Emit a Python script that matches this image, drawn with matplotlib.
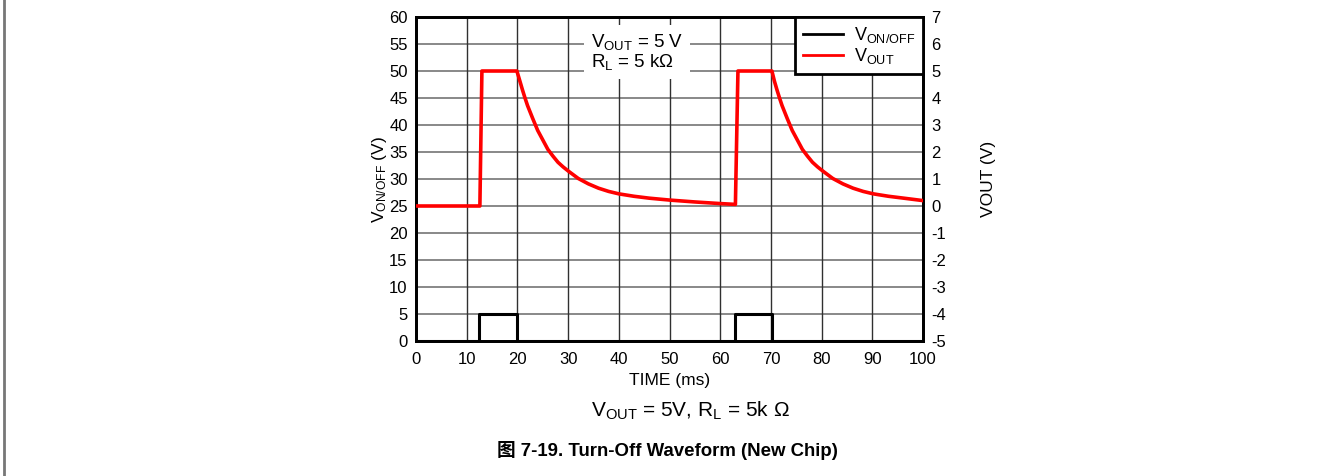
import matplotlib
matplotlib.use("Agg")
import matplotlib.pyplot as plt
from matplotlib.lines import Line2D

plt.rcParams['font.family'] = ['Liberation Sans', 'Noto Sans CJK SC', 'DejaVu Sans']
plt.rcParams['mathtext.fontset'] = 'custom'
plt.rcParams['mathtext.rm'] = 'Liberation Sans'
plt.rcParams['mathtext.it'] = 'Liberation Sans:italic'
plt.rcParams['mathtext.bf'] = 'Liberation Sans:bold'
plt.rcParams['axes.unicode_minus'] = False

# V_ON/OFF control signal (left axis, V)
t_on = [0, 12.4, 12.4, 19.9, 19.9, 62.9, 62.9, 70.2, 70.2, 100]
v_on = [0, 0, 5, 5, 0, 0, 5, 5, 0, 0]

# V_OUT (right axis, V)
t_out = [0, 12.6, 13.0, 19.9, 20.5, 21, 21.5, 22, 23, 24, 25, 26, 27, 28, 29, 30,
         32, 34, 36, 38, 40, 43, 46, 50, 55, 60, 63.0,
         63.5, 70.2, 70.7, 71.2, 71.7, 72.2, 73.2, 74.2, 75.2, 76.2, 77.2, 78.2,
         79.2, 80.2, 82.2, 84.2, 86.2, 88.2, 90.2, 93.2, 96.2, 100]
v_out = [0, 0, 5, 5, 4.62, 4.3, 4.0, 3.72, 3.25, 2.8, 2.45, 2.1, 1.85, 1.62, 1.45,
         1.3, 1.02, 0.82, 0.66, 0.54, 0.45, 0.36, 0.29, 0.22, 0.15, 0.09, 0.06,
         5, 5, 4.62, 4.3, 4.0, 3.72, 3.25, 2.8, 2.45, 2.1, 1.85, 1.62,
         1.45, 1.3, 1.02, 0.82, 0.66, 0.54, 0.45, 0.36, 0.29, 0.2]

x_ticks = list(range(0, 101, 10))
left_ticks = list(range(0, 61, 5))
right_ticks = list(range(-5, 8))

fig = plt.figure(figsize=(13.33, 4.76), dpi=100)
ax = fig.add_axes([416 / 1333, 1 - 341 / 476, (923 - 416) / 1333, (341 - 17) / 476])
ax2 = ax.twinx()

ax.set_xlim(0, 100)
ax.set_ylim(0, 60)
ax2.set_ylim(-5, 7)
ax.set_xticks(x_ticks)
ax.set_yticks(left_ticks)
ax2.set_yticks(right_ticks)

# grid: horizontal gray, vertical dark
for y in left_ticks[1:-1]:
    ax.axhline(y, color='#7f7f7f', lw=1.3, zorder=0)
for x in x_ticks[1:-1]:
    ax.axvline(x, color='#303030', lw=1.0, zorder=0)

ax.plot(t_on, v_on, color='black', lw=2.2, zorder=3)
ax2.plot(t_out, v_out, color='#ff0000', lw=2.6, zorder=3, solid_joinstyle='round')

for a in (ax, ax2):
    for s in a.spines.values():
        s.set_linewidth(2)
        s.set_color('black')
    a.tick_params(length=0, labelsize=12, pad=6)
ax.tick_params(axis='x', pad=8)

ax.set_xlabel('TIME (ms)', fontsize=12.5, labelpad=4)
ax.set_ylabel('V$_{\\mathrm{ON/OFF}}$ (V)', fontsize=12.5, labelpad=0)
ax2.set_ylabel('VOUT (V)', fontsize=12.5, labelpad=25)

ax2.text(0.345, 0.955, 'V$_{\\mathrm{OUT}}$ = 5 V\nR$_{\\mathrm{L}}$ = 5 k\u03a9',
         transform=ax2.transAxes, fontsize=13.5, va='top', ha='left', linespacing=1.0,
         bbox=dict(facecolor='white', edgecolor='none', pad=5), zorder=4)

handles = [Line2D([], [], color='black', lw=2),
           Line2D([], [], color='#ff0000', lw=2)]
leg = ax2.legend(handles, ['V$_{\\mathrm{ON/OFF}}$', 'V$_{\\mathrm{OUT}}$'],
                 loc='upper right', borderaxespad=0, fancybox=False, fontsize=13,
                 handlelength=2.2, labelspacing=0.05, borderpad=0.45, framealpha=1,
                 handletextpad=0.6)
leg.get_frame().set_edgecolor('black')
leg.get_frame().set_linewidth(2)
leg.set_zorder(5)

fig.text(690 / 1333, 1 - 411 / 476,
         'V$_{\\mathrm{OUT}}$ = 5V, R$_{\\mathrm{L}}$ = 5k \u03a9',
         fontsize=15, ha='center', va='center')
fig.text(667 / 1333, 1 - 450 / 476, '图 7-19. Turn-Off Waveform (New Chip)',
         fontsize=13.4, fontweight='bold', ha='center', va='center')

fig.add_artist(Line2D([4 / 1333, 4 / 1333], [0, 1], color='#777777', lw=2,
                      transform=fig.transFigure))

fig.savefig('out.png', dpi=100)
